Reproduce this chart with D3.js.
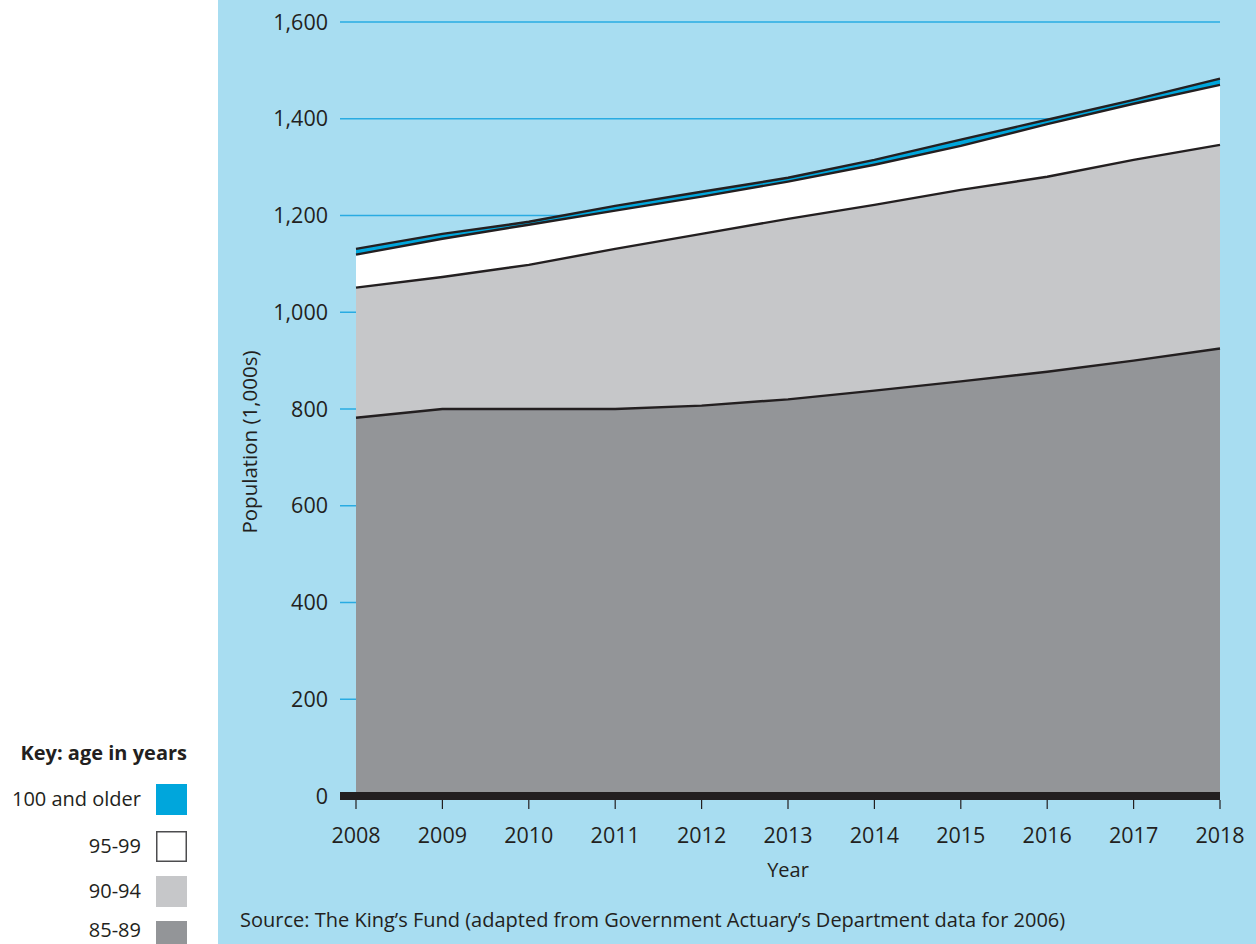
<!DOCTYPE html>
<html>
<head>
<meta charset="utf-8">
<script src="https://cdn.jsdelivr.net/npm/d3@7"></script>
<style>
  html, body { margin: 0; padding: 0; background: #ffffff; }
  svg { display: block; font-family: "Open Sans", "DejaVu Sans", sans-serif; }
</style>
</head>
<body>
<svg id="chart" width="1256" height="944"></svg>
<script>
// Projected population aged 85+ in England (thousands), by age band
const years = [2008, 2009, 2010, 2011, 2012, 2013, 2014, 2015, 2016, 2017, 2018];
const age85to89 = [782, 800, 800, 800, 807, 820, 838, 857, 877, 900, 925];
const age90to94 = [269, 273, 298, 331, 355, 373, 384, 396, 403, 415, 421];
const age95to99 = [68, 79, 83, 79, 77, 77, 83, 91, 109, 116, 124];
const age100plus = [12, 10, 6, 10, 10, 8, 10, 13, 9, 8, 13];
const yTicks = [0, 200, 400, 600, 800, 1000, 1200, 1400, 1600];
const bandKeys = ["85-89", "90-94", "95-99", "100 and older"];
const bandColors = ["#939598", "#c6c7c9", "#ffffff", "#00a6dc"];

const rows = years.map((yr, i) => ({
  year: yr,
  "85-89": age85to89[i],
  "90-94": age90to94[i],
  "95-99": age95to99[i],
  "100 and older": age100plus[i]
}));

const svg = d3.select("#chart");
const ink = "#231f20";

// Panel background
svg.append("rect").attr("x", 218).attr("y", 0).attr("width", 1038).attr("height", 944)
  .attr("fill", "#a8ddf1");

const x = d3.scaleLinear().domain([2008, 2018]).range([356, 1220]);
const y = d3.scaleLinear().domain([0, 1600]).range([796, 22]);

// Horizontal gridlines
svg.append("g").selectAll("line").data(yTicks.filter(d => d > 0)).join("line")
  .attr("x1", 340).attr("x2", 1220)
  .attr("y1", d => y(d)).attr("y2", d => y(d))
  .attr("stroke", "#29abe2").attr("stroke-width", 1.5);

// Stacked areas
const stack = d3.stack().keys(bandKeys);
const layers = stack(rows);
const area = d3.area().x(d => x(d.data.year)).y0(d => y(d[0])).y1(d => y(d[1]));
const line = d3.line().x(d => x(d.data.year)).y(d => y(d[1]));

svg.append("g").selectAll("path").data(layers).join("path")
  .attr("d", area)
  .attr("fill", (d, i) => bandColors[i]);

svg.append("g").selectAll("path").data(layers).join("path")
  .attr("d", line)
  .attr("fill", "none")
  .attr("stroke", ink)
  .attr("stroke-width", 2.4)
  .attr("stroke-linejoin", "round");

// Zero baseline bar
svg.append("line").attr("x1", 340).attr("x2", 1220)
  .attr("y1", y(0)).attr("y2", y(0))
  .attr("stroke", ink).attr("stroke-width", 8);

// Y tick labels
svg.append("g").selectAll("text").data(yTicks).join("text")
  .attr("x", 328).attr("y", d => y(d))
  .attr("dy", "0.35em")
  .attr("text-anchor", "end")
  .attr("font-size", 21.5).attr("fill", ink)
  .text(d => d3.format(",")(d));

// X ticks and labels
const xAxis = svg.append("g");
xAxis.selectAll("line").data(years).join("line")
  .attr("x1", d => x(d)).attr("x2", d => x(d))
  .attr("y1", 800).attr("y2", 809)
  .attr("stroke", ink).attr("stroke-width", 1.2);
xAxis.selectAll("text").data(years).join("text")
  .attr("x", d => x(d)).attr("y", 843)
  .attr("text-anchor", "middle")
  .attr("font-size", 21.5).attr("fill", ink)
  .text(d => d);

// Axis titles
svg.append("text").attr("x", 788).attr("y", 877)
  .attr("text-anchor", "middle").attr("font-size", 20).attr("fill", ink)
  .text("Year");
svg.append("text")
  .attr("transform", "translate(257,442) rotate(-90)")
  .attr("text-anchor", "middle").attr("font-size", 20.5).attr("fill", ink)
  .text("Population (1,000s)");

// Source note
svg.append("text").attr("x", 240).attr("y", 927)
  .attr("font-size", 20).attr("fill", ink)
  .text("Source: The King\u2019s Fund (adapted from Government Actuary\u2019s Department data for 2006)");

// Key
const key = svg.append("g");
key.append("text").attr("x", 187).attr("y", 760)
  .attr("text-anchor", "end").attr("font-size", 20).attr("font-weight", "bold").attr("fill", ink)
  .text("Key: age in years");
const keyOrder = [3, 2, 1, 0];
const keyY = [784, 831, 876, 921];
keyOrder.forEach((bi, r) => {
  const outlined = bi === 2;
  key.append("rect")
    .attr("x", outlined ? 156.75 : 156).attr("y", outlined ? keyY[r] + 0.75 : keyY[r])
    .attr("width", outlined ? 29.5 : 31).attr("height", outlined ? 29.5 : 31)
    .attr("fill", bandColors[bi])
    .attr("stroke", outlined ? "#4d4d4f" : "none")
    .attr("stroke-width", outlined ? 1.5 : 0);
  key.append("text").attr("x", 141).attr("y", Math.min(keyY[r] + 22, 937))
    .attr("text-anchor", "end").attr("font-size", 20).attr("fill", ink)
    .text(bandKeys[bi]);
});
</script>
</body>
</html>
